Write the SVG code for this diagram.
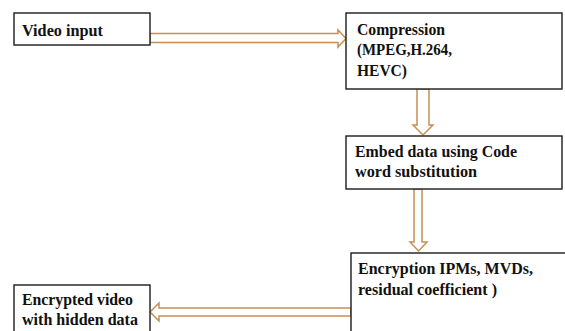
<svg xmlns="http://www.w3.org/2000/svg" width="565" height="331" viewBox="0 0 565 331">
  <style>
    .box { fill: #ffffff; stroke: #1a1a1a; stroke-width: 1.4; }
    .lbl { font-family: "Liberation Serif", "Times New Roman", serif; font-weight: bold; font-size: 17.5px; fill: #111111; }
    .arrow { fill: #ffffff; stroke: #c68f55; stroke-width: 1.5; stroke-linejoin: miter; }
  </style>
  <rect width="565" height="331" fill="#ffffff"/>

  <g id="connectors">
    <!-- Video input to Compression -->
    <path class="arrow" d="M150,33.5 H338 V30 L346,38.5 L338,47 V42.5 H150 Z"/>
    <!-- Compression to Embed -->
    <path class="arrow" d="M417,89 V125 H413 L423,135 L433,125 H429 V89 Z"/>
    <!-- Embed to Encryption -->
    <path class="arrow" d="M414,189 V242 H410 L418.5,251 L427,242 H422 V189 Z"/>
    <!-- Encryption to output -->
    <path class="arrow" d="M351,308 H159 V303 L150,312 L159,321 V316 H351 Z"/>
  </g>

  <g id="video-input">
    <rect class="box" x="14" y="13" width="136" height="32"/>
    <text class="lbl" x="22" y="36" textLength="81" lengthAdjust="spacingAndGlyphs">Video input</text>
  </g>

  <g id="compression">
    <rect class="box" x="346" y="13" width="216" height="76"/>
    <text class="lbl" x="357" y="35" textLength="88" lengthAdjust="spacingAndGlyphs">Compression</text>
    <text class="lbl" x="357" y="55" textLength="95" lengthAdjust="spacingAndGlyphs">(MPEG,H.264,</text>
    <text class="lbl" x="357" y="76" textLength="50" lengthAdjust="spacingAndGlyphs">HEVC)</text>
  </g>

  <g id="embed">
    <rect class="box" x="346" y="136" width="216" height="53"/>
    <text class="lbl" x="355" y="157" textLength="162" lengthAdjust="spacingAndGlyphs">Embed data using Code</text>
    <text class="lbl" x="355" y="177" textLength="122" lengthAdjust="spacingAndGlyphs">word substitution</text>
  </g>

  <g id="encryption">
    <rect class="box" x="351" y="253" width="220" height="90"/>
    <text class="lbl" x="358" y="274" textLength="175" lengthAdjust="spacingAndGlyphs">Encryption IPMs, MVDs,</text>
    <text class="lbl" x="358" y="295" textLength="139" lengthAdjust="spacingAndGlyphs">residual coefficient )</text>
  </g>

  <g id="output">
    <rect class="box" x="14" y="285" width="136" height="60"/>
    <text class="lbl" x="22" y="305" textLength="111" lengthAdjust="spacingAndGlyphs">Encrypted video</text>
    <text class="lbl" x="22" y="325" textLength="116" lengthAdjust="spacingAndGlyphs">with hidden data</text>
  </g>
</svg>
